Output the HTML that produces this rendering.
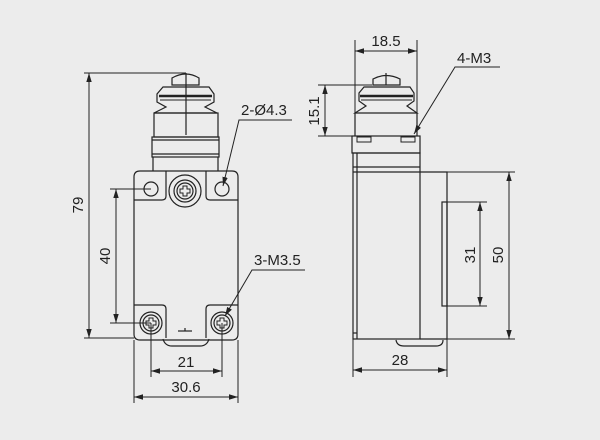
<!DOCTYPE html>
<html><head><meta charset="utf-8"><style>
html,body{margin:0;padding:0;background:#ececec;}
svg{display:block;}
text{font-family:"Liberation Sans",sans-serif;font-size:15px;fill:#222;}
</style></head><body>
<svg width="600" height="440" viewBox="0 0 600 440" xmlns="http://www.w3.org/2000/svg">
<defs>
<marker id="a" viewBox="0 0 10 10" refX="10" refY="5" markerWidth="9" markerHeight="9" orient="auto-start-reverse" markerUnits="userSpaceOnUse"><path d="M0,2 L10,5 L0,8 z" fill="#222"/></marker>
</defs>
<rect width="600" height="440" fill="#ececec"/>
<g fill="none" stroke="#222" stroke-width="1.2">
<!-- LEFT VIEW -->
<!-- button -->
<path d="M172,85 L172,78 Q186,70 199,78 L199,85 Z"/>
<!-- bellows -->
<path d="M163,87 L209,87 L214,94 L214,102 L205,107 L217,113 L154,113 L166,107 L157,102 L157,94 Z"/>
<line x1="159" y1="96" x2="212" y2="96" stroke-width="2.5"/>
<line x1="160" y1="100" x2="211" y2="100" stroke-width="1"/>
<rect x="154" y="113" width="64" height="24"/>
<rect x="152" y="137" width="67" height="20"/>
<line x1="152" y1="140" x2="219" y2="140"/>
<line x1="152" y1="154" x2="219" y2="154"/>
<line x1="153" y1="157" x2="153" y2="171"/>
<line x1="218" y1="157" x2="218" y2="171"/>
<line x1="186" y1="73" x2="186" y2="135"/>
<!-- body -->
<path d="M140,171 L232,171 Q238,171 238,177 L238,334 Q238,340 232,340 L140,340 Q134,340 134,334 L134,177 Q134,171 140,171 Z"/>
<path d="M134,200 L162,200 Q166,200 166,196 L166,171"/>
<path d="M238,200 L210,200 Q206,200 206,196 L206,171"/>
<circle cx="151" cy="189" r="7"/>
<circle cx="222" cy="189" r="7"/>
<circle cx="185" cy="191" r="16"/>
<circle cx="185" cy="191" r="11"/>
<circle cx="185" cy="191" r="8"/>
<path d="M183,186 h4 v3 h3 v4 h-3 v3 h-4 v-3 h-3 v-4 h3 z" stroke-width="1"/>
<!-- bottom tabs -->
<path d="M134,305 L162,305 Q166,305 166,309 L166,338"/>
<path d="M238,305 L210,305 Q206,305 206,309 L206,338"/>
<circle cx="151" cy="323" r="11"/><circle cx="151" cy="323" r="8"/>
<circle cx="222" cy="323" r="11"/><circle cx="222" cy="323" r="8"/>
<path d="M149,318 h4 v3 h3 v4 h-3 v3 h-4 v-3 h-3 v-4 h3 z" stroke-width="1"/>
<path d="M220,318 h4 v3 h3 v4 h-3 v3 h-4 v-3 h-3 v-4 h3 z" stroke-width="1"/>
<path d="M163,339 Q165,346 172,346 L200,346 Q207,346 209,339"/>
<line x1="178" y1="331" x2="192" y2="331"/><line x1="185" y1="328" x2="185" y2="331"/>
<!-- dims left -->
<line x1="84" y1="73" x2="186" y2="73" stroke-width="1"/>
<line x1="84" y1="338" x2="134" y2="338" stroke-width="1"/>
<line x1="89" y1="73" x2="89" y2="338" stroke-width="1" marker-start="url(#a)" marker-end="url(#a)"/>
<line x1="110" y1="189" x2="151" y2="189" stroke-width="1"/>
<line x1="110" y1="323" x2="151" y2="323" stroke-width="1"/>
<line x1="116" y1="189" x2="116" y2="323" stroke-width="1" marker-start="url(#a)" marker-end="url(#a)"/>
<line x1="151" y1="323" x2="151" y2="377" stroke-width="1"/>
<line x1="222" y1="323" x2="222" y2="377" stroke-width="1"/>
<line x1="151" y1="371" x2="222" y2="371" stroke-width="1" marker-start="url(#a)" marker-end="url(#a)"/>
<line x1="134" y1="340" x2="134" y2="403" stroke-width="1"/>
<line x1="238" y1="340" x2="238" y2="403" stroke-width="1"/>
<line x1="134" y1="397" x2="238" y2="397" stroke-width="1" marker-start="url(#a)" marker-end="url(#a)"/>
<polyline points="292,120 239,120 223,186" stroke-width="1" marker-end="url(#a)"/>
<polyline points="305,270 252,270 225,316" stroke-width="1" marker-end="url(#a)"/>
<!-- RIGHT VIEW -->
<path d="M373,85 L373,79 Q386,72 400,79 L400,85 Z"/>
<line x1="386" y1="73" x2="386" y2="85"/>
<path d="M364,87 L410,87 L414,93 L414,101 L407,106 L417,113 L355,113 L366,106 L359,101 L359,93 Z"/>
<line x1="360" y1="96" x2="413" y2="96" stroke-width="2.5"/>
<line x1="361" y1="100" x2="412" y2="100" stroke-width="1"/>
<line x1="355" y1="113" x2="355" y2="136"/>
<line x1="417" y1="113" x2="417" y2="136"/>
<rect x="352" y="136" width="68" height="17"/>
<rect x="357" y="137" width="14" height="5" stroke-width="1"/>
<rect x="401" y="137" width="14" height="5" stroke-width="1"/>
<rect x="353" y="153" width="67" height="186"/>
<line x1="357" y1="153" x2="357" y2="339"/>
<line x1="353" y1="167" x2="420" y2="167"/>
<line x1="353" y1="172" x2="420" y2="172"/>
<line x1="353" y1="333" x2="357" y2="333"/>
<polyline points="420,172 447,172 447,339 420,339"/>
<rect x="442" y="202" width="5" height="104"/>
<path d="M396,340 Q397,346 404,346 L436,346 Q443,346 443,340"/>
<!-- dims right -->
<line x1="355" y1="40" x2="355" y2="113" stroke-width="1"/>
<line x1="417" y1="40" x2="417" y2="113" stroke-width="1"/>
<line x1="355" y1="51" x2="417" y2="51" stroke-width="1" marker-start="url(#a)" marker-end="url(#a)"/>
<line x1="318" y1="85" x2="372" y2="85" stroke-width="1"/>
<line x1="318" y1="136" x2="355" y2="136" stroke-width="1"/>
<line x1="325" y1="85" x2="325" y2="136" stroke-width="1" marker-start="url(#a)" marker-end="url(#a)"/>
<polyline points="500,67 455,67 414,134" stroke-width="1" marker-end="url(#a)"/>
<line x1="447" y1="172" x2="515" y2="172" stroke-width="1"/>
<line x1="447" y1="339" x2="515" y2="339" stroke-width="1"/>
<line x1="509" y1="172" x2="509" y2="339" stroke-width="1" marker-start="url(#a)" marker-end="url(#a)"/>
<line x1="447" y1="202" x2="487" y2="202" stroke-width="1"/>
<line x1="447" y1="306" x2="487" y2="306" stroke-width="1"/>
<line x1="480" y1="202" x2="480" y2="306" stroke-width="1" marker-start="url(#a)" marker-end="url(#a)"/>
<line x1="353" y1="339" x2="353" y2="377" stroke-width="1"/>
<line x1="447" y1="339" x2="447" y2="377" stroke-width="1"/>
<line x1="353" y1="370" x2="447" y2="370" stroke-width="1" marker-start="url(#a)" marker-end="url(#a)"/>
</g>
<g>
<text x="83" y="205" text-anchor="middle" transform="rotate(-90 83 205)">79</text>
<text x="110" y="256" text-anchor="middle" transform="rotate(-90 110 256)">40</text>
<text x="186" y="367" text-anchor="middle">21</text>
<text x="186" y="392" text-anchor="middle">30.6</text>
<text x="241" y="115">2-Ø4.3</text>
<text x="254" y="265">3-M3.5</text>
<text x="386" y="46" text-anchor="middle">18.5</text>
<text x="319" y="111" text-anchor="middle" transform="rotate(-90 319 111)">15.1</text>
<text x="457" y="63">4-M3</text>
<text x="475" y="255" text-anchor="middle" transform="rotate(-90 475 255)">31</text>
<text x="503" y="255" text-anchor="middle" transform="rotate(-90 503 255)">50</text>
<text x="400" y="365" text-anchor="middle">28</text>
</g>
</svg>
</body></html>
